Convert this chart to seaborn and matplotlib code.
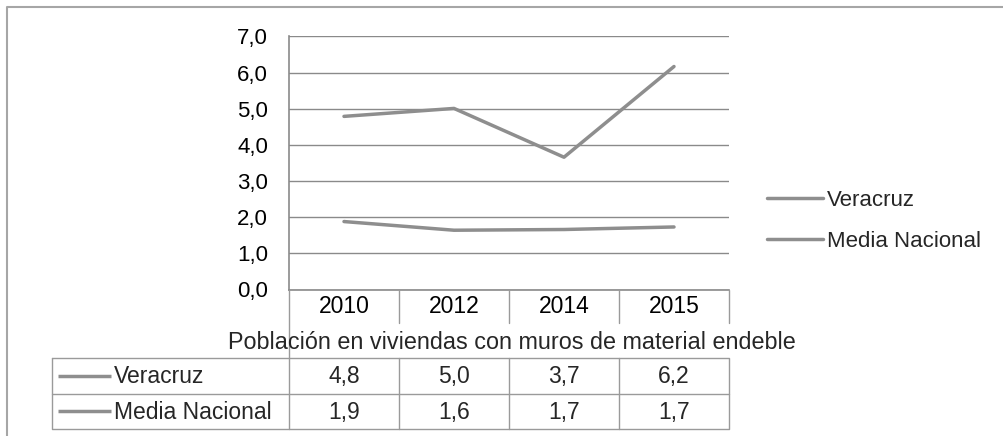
import pandas as pd
import matplotlib
matplotlib.use("Agg")
import matplotlib.pyplot as plt
import seaborn as sns

# Data
years = ["2010", "2012", "2014", "2015"]
veracruz = [4.79, 5.01, 3.66, 6.17]
media_nacional = [1.88, 1.64, 1.66, 1.73]
series_names = ["Veracruz", "Media Nacional"]
y_ticks = [0, 1, 2, 3, 4, 5, 6, 7]
title = "Población en viviendas con muros de material endeble"

W, H = 1004, 436
GRAY = "#8e8e8e"
GRID = "#8a8a8a"
FS_TICK = 16
FS_LEG = 16
FS_TAB = 16.5

sns.set_theme(style="white")
plt.rcParams["font.family"] = ["Liberation Sans", "DejaVu Sans"]

df = pd.DataFrame({
    "pos": list(range(len(years))) * 2,
    "valor": veracruz + media_nacional,
    "serie": [series_names[0]] * len(years) + [series_names[1]] * len(years),
})

fig = plt.figure(figsize=(W / 100, H / 100), dpi=100)

# main plot area (pixel coords converted to figure fractions)
x0, x1 = 289, 729
y0, y7 = 289.5, 36.5
ax = fig.add_axes([x0 / W, (H - y0) / H, (x1 - x0) / W, (y0 - y7) / H])

sns.lineplot(data=df, x="pos", y="valor", hue="serie", palette=[GRAY, GRAY],
             linewidth=2.5, ax=ax, sort=False)

ax.set_xlim(-0.5, len(years) - 0.5)
ax.set_ylim(0, 7)
ax.set_yticks(y_ticks)
ax.set_yticklabels([f"{t:.1f}".replace(".", ",") for t in y_ticks], fontsize=FS_TICK)
ax.set_xticks(range(len(years)))
ax.set_xticklabels(years, fontsize=FS_TAB)
ax.tick_params(axis="x", length=0, pad=4, colors="black")
ax.tick_params(axis="y", length=5, width=1, pad=10, colors="black")
ax.tick_params(axis="y", color=GRID)
ax.yaxis.grid(True, color=GRID, linewidth=1)
ax.xaxis.grid(False)
ax.set_xlabel("")
ax.set_ylabel("")
for s in ["top", "right"]:
    ax.spines[s].set_visible(False)
for s in ["left", "bottom"]:
    ax.spines[s].set_color(GRID)
    ax.spines[s].set_linewidth(1.2)

sns.move_legend(ax, "center left", bbox_to_anchor=(767 / W, (H - 221) / H),
                bbox_transform=fig.transFigure, frameon=False, title=None,
                fontsize=FS_LEG, handlelength=2.5, handletextpad=0.2,
                labelspacing=0.9, borderpad=0, borderaxespad=0)

# overlay in pixel coordinates for the data table and outer frame
ov = fig.add_axes([0, 0, 1, 1], facecolor="none")
ov.set_xlim(0, W)
ov.set_ylim(H, 0)
ov.axis("off")

lc = "#9a9a9a"
# outer chart frame
ov.plot([7, 7, W + 5], [H + 5, 7, 7], color="#a6a6a6", lw=1.5)

# category header separators
bounds = [x0 + i * (x1 - x0) / len(years) for i in range(len(years) + 1)]
for b in bounds[1:]:
    ov.plot([b, b], [y0, 323], color=lc, lw=1)
ov.plot([x0, x0], [y0, 429], color=lc, lw=1)

# axis title
ov.text(512, 342, title, ha="center", va="center", fontsize=16.8)

# data table
t_left, t_top, t_mid, t_bot = 52, 358, 393.5, 429
ov.plot([t_left, bounds[-1], bounds[-1], t_left, t_left],
        [t_top, t_top, t_bot, t_bot, t_top], color=lc, lw=1)
ov.plot([t_left, bounds[-1]], [t_mid, t_mid], color=lc, lw=1)
for b in bounds[1:-1]:
    ov.plot([b, b], [t_top, t_bot], color=lc, lw=1)

rows = [veracruz, media_nacional]
row_y = [(t_top + t_mid) / 2, (t_mid + t_bot) / 2]
for name, vals, yy in zip(series_names, rows, row_y):
    ov.plot([58, 111], [yy, yy], color=GRAY, lw=2.5, solid_capstyle="butt")
    ov.text(114, yy + 1, name, ha="left", va="center", fontsize=FS_TAB)
    for i, v in enumerate(vals):
        cx = (bounds[i] + bounds[i + 1]) / 2
        ov.text(cx, yy + 1, f"{v:.1f}".replace(".", ","),
                ha="center", va="center", fontsize=FS_TAB)

fig.savefig("out.png", dpi=100)
